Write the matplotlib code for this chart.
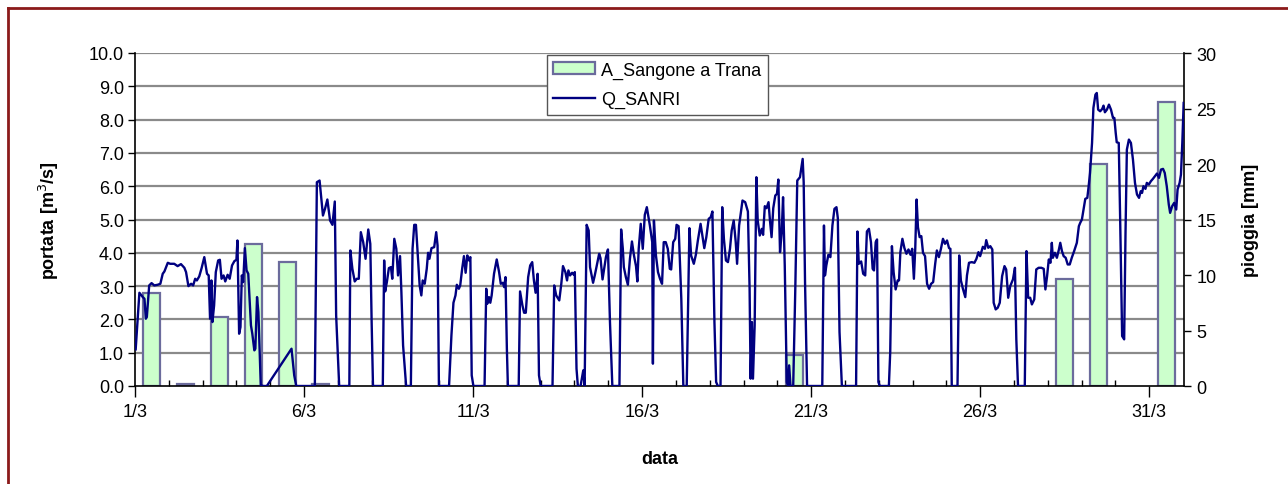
import numpy as np
import matplotlib.pyplot as plt
from matplotlib.patches import Patch
from matplotlib.lines import Line2D

plt.rcParams['font.family'] = ['Liberation Sans', 'DejaVu Sans']
plt.rcParams['font.size'] = 13

# pioggia giornaliera [mm] (giorno di marzo)
rain_day = [1, 2, 3, 4, 5, 6, 20, 28, 29, 31]
rain_mm = [8.4, 0.2, 6.2, 12.8, 11.2, 0.2, 2.8, 9.6, 20.0, 25.6]

# portata Q_SANRI: tempo in giorni dal 1/3 00:00, portata in m3/s
q_t = [0.02, 0.13, 0.23, 0.28, 0.32, 0.35, 0.42, 0.49, 0.57, 0.67, 0.75, 0.82, 0.87, 0.97,
       1.04, 1.16, 1.26, 1.36, 1.46, 1.51, 1.58, 1.66, 1.72, 1.78, 1.83, 1.90, 1.97,
       2.05, 2.13, 2.18, 2.22, 2.26, 2.29, 2.34, 2.39, 2.46, 2.51, 2.56, 2.62, 2.67, 2.74,
       2.80, 2.87, 2.94, 3.00, 3.03, 3.08, 3.12, 3.16, 3.20, 3.25, 3.30, 3.35, 3.43, 3.47,
       3.53, 3.56, 3.61, 3.65, 3.72, 3.80, 3.90, 4.63, 4.71, 4.77,
       5.32, 5.38, 5.46, 5.56, 5.62, 5.69, 5.77, 5.84, 5.91, 5.95, 6.04, 6.34, 6.37, 6.43,
       6.50, 6.56, 6.62, 6.68, 6.75, 6.82, 6.90, 6.96, 7.00, 7.04, 7.33, 7.37, 7.40, 7.45,
       7.51, 7.57, 7.61, 7.67, 7.73, 7.78, 7.84, 7.88, 7.93, 8.02, 8.16, 8.21, 8.26, 8.31,
       8.37, 8.42, 8.47, 8.51, 8.57, 8.63, 8.67, 8.71, 8.77, 8.85, 8.91, 8.95, 8.99, 9.29,
       9.36, 9.42, 9.48, 9.52, 9.58, 9.62, 9.68, 9.73, 9.78, 9.83, 9.88, 9.92, 9.96, 10.01,
       10.34, 10.39, 10.42, 10.47, 10.51, 10.55, 10.62, 10.70, 10.77, 10.82, 10.88, 10.92,
       10.96, 11.00, 11.03, 11.35, 11.39, 11.46, 11.51, 11.56, 11.63, 11.69, 11.75, 11.80,
       11.85, 11.91, 11.95, 12.00, 12.35, 12.40, 12.46, 12.51, 12.55, 12.61, 12.66, 12.73,
       12.78, 12.82, 12.87, 12.93, 12.98, 13.01, 13.06, 13.10, 13.18, 13.26, 13.30, 13.36,
       13.42, 13.46, 13.55, 13.60, 13.67, 13.73, 13.77, 13.83, 13.89, 13.93, 13.99, 14.05,
       14.12, 14.33, 14.38, 14.43, 14.46, 14.52, 14.58, 14.64, 14.70, 14.76, 14.82, 14.86,
       14.90, 14.96, 15.02, 15.08, 15.14,
       15.23, 15.30, 15.32, 15.35, 15.41, 15.47, 15.53, 15.59, 15.64, 15.70, 15.76, 15.82,
       15.86, 15.92, 15.98, 16.02, 16.08, 16.16, 16.22, 16.32, 16.40, 16.45, 16.53, 16.59,
       16.65, 16.73, 16.79, 16.84, 16.90, 16.97, 17.03, 17.08, 17.14, 17.19, 17.24, 17.32,
       17.37, 17.42, 17.48, 17.54, 17.60, 17.65, 17.71, 17.77, 17.81, 17.87, 17.97, 18.05,
       18.13, 18.18, 18.21, 18.25, 18.28, 18.33, 18.38, 18.42, 18.48, 18.54, 18.58, 18.63,
       18.68, 18.74, 18.78, 18.83, 18.88, 18.94, 18.99, 19.03, 19.08, 19.13, 19.17, 19.22,
       19.28, 19.32, 19.35, 19.39, 19.47, 19.53, 19.59, 19.67, 19.75, 19.78, 19.82, 19.88,
       20.33, 20.38, 20.41, 20.45, 20.51, 20.57, 20.63, 20.69, 20.75, 20.79, 20.84, 20.91,
       21.33, 21.37, 21.41, 21.48, 21.54, 21.60, 21.65, 21.71, 21.77, 21.82, 21.86, 21.91,
       21.95, 21.99, 22.03, 22.30, 22.34, 22.39, 22.44, 22.50, 22.56, 22.60, 22.64, 22.70,
       22.76, 22.82, 22.88, 22.94, 22.99, 23.04, 23.08, 23.12, 23.16, 23.21, 23.26, 23.31,
       23.37, 23.43, 23.49, 23.55, 23.61, 23.67, 23.72, 23.78, 23.84, 23.90, 23.96, 24.02,
       24.08, 24.12, 24.16, 24.33, 24.38, 24.43, 24.49, 24.56, 24.61, 24.67, 24.75, 24.83,
       24.89, 24.95,
       25.00, 25.08, 25.14, 25.18, 25.24, 25.30, 25.36, 25.40, 25.46, 25.52, 25.58, 25.65,
       25.72, 25.77, 25.83, 25.89, 25.97, 26.03, 26.07, 26.12, 26.32, 26.37, 26.42, 26.48,
       26.53, 26.60, 26.66, 26.73, 26.81, 26.88, 26.93, 26.98, 27.03, 27.08, 27.12, 27.15,
       27.21, 27.27, 27.33, 27.37, 27.42, 27.47, 27.53, 27.59, 27.65, 27.71, 27.78, 27.86,
       27.92, 27.96, 28.01, 28.06, 28.11, 28.17, 28.21, 28.25, 28.31, 28.35, 28.41, 28.45,
       28.49, 28.55, 28.61, 28.65, 28.69, 28.75, 28.81, 28.87, 28.93, 28.97, 29.01, 29.04,
       29.10, 29.14, 29.20, 29.26, 29.30, 29.34, 29.40, 29.46, 29.52, 29.58, 29.64, 29.70,
       29.75, 29.79, 29.83, 29.89, 29.93, 29.99, 30.05, 30.11, 30.17, 30.23, 30.29, 30.35,
       30.41, 30.46, 30.52, 30.58, 30.62, 30.68, 30.74, 30.80, 30.84, 30.90, 30.94, 30.98,
       31.02]
q_v = [1.10, 2.80, 2.67, 2.62, 2.02, 2.07, 3.02, 3.09, 3.02, 3.04, 3.07, 3.37, 3.44, 3.70,
       3.67, 3.67, 3.60, 3.66, 3.55, 3.42, 3.00, 3.07, 3.02, 3.22, 3.17, 3.29, 3.54,
       3.87, 3.37, 3.32, 2.02, 3.17, 1.92, 2.42, 3.42, 3.77, 3.79, 3.22, 3.32, 3.14, 3.34,
       3.22, 3.62, 3.75, 3.79, 4.37, 1.57, 1.77, 3.32, 3.12, 4.14, 3.47, 3.37, 1.82, 1.57,
       1.07, 1.12, 2.67, 2.22, 0.02, 0.0, 0.0, 1.12, 0.32, 0.0,
       0.0, 6.12, 6.17, 5.12, 5.32, 5.60, 4.97, 4.84, 5.54, 2.12, 0.0, 0.0, 4.07, 3.52,
       3.14, 3.22, 3.22, 4.62, 4.32, 3.82, 4.70, 4.27, 1.92, 0.0, 0.0, 3.77, 2.84, 3.12,
       3.54, 3.57, 3.22, 4.42, 4.12, 3.32, 3.90, 2.82, 1.22, 0.0, 0.0, 4.12, 4.84, 4.84,
       3.82, 3.02, 2.72, 3.17, 3.07, 3.52, 4.00, 3.82, 4.14, 4.17, 4.62, 4.22, 0.0, 0.0,
       1.52, 2.50, 2.72, 3.04, 2.92, 3.02, 3.54, 3.90, 3.40, 3.92, 3.77, 3.87, 0.32, 0.0,
       0.0, 2.92, 2.47, 2.67, 2.50, 2.72, 3.37, 3.80, 3.42, 3.07, 3.10, 2.97,
       3.27, 1.12, 0.0, 0.0, 2.84, 2.42, 2.20, 2.20, 3.27, 3.62, 3.72, 3.17,
       2.80, 3.37, 0.32, 0.0, 0.0, 3.02, 2.72, 2.64, 2.57, 3.07, 3.60, 3.42,
       3.17, 3.47, 3.32, 3.40, 3.34, 3.42, 0.52, 0.0, 0.0, 0.47, 0.0, 4.84,
       4.67, 3.57, 3.10, 3.32, 3.67, 3.97, 3.84, 3.20, 3.60, 3.87, 4.10, 1.92,
       0.0, 0.0, 4.70, 4.12, 3.57, 3.27, 3.04, 3.82, 4.34, 3.92, 3.60, 3.14,
       4.12, 4.87, 4.12, 5.14, 5.37,
       4.82, 4.32, 0.67, 4.97, 3.92, 3.42, 3.22, 3.07, 4.32, 4.32, 4.12, 3.52,
       3.50, 4.32, 4.42, 4.84, 4.80, 2.62, 0.0, 0.0, 4.74, 3.92, 3.67, 3.94,
       4.37, 4.87, 4.47, 4.14, 4.47, 5.02, 5.07, 5.24, 1.92, 0.12, 0.0, 0.0,
       5.37, 4.42, 3.77, 3.72, 4.12, 4.67, 4.97, 4.32, 3.67, 4.82, 5.57, 5.52,
       5.24, 2.92, 0.22, 1.92, 0.22, 1.82, 6.27, 4.97, 4.52, 4.72, 4.54, 5.40,
       5.34, 5.52, 5.00, 4.47, 5.34, 5.72, 5.77, 6.20, 4.02, 4.62, 5.67, 3.62,
       0.12, 0.0, 0.62, 0.0, 0.0, 2.82, 6.17, 6.27, 6.82, 6.12, 3.12, 0.0,
       0.0, 4.82, 3.32, 3.62, 3.94, 3.87, 4.82, 5.32, 5.37, 5.04, 1.62, 0.0,
       0.0, 4.64, 3.67, 3.74, 3.37, 3.32, 4.64, 4.72, 4.32, 3.52, 3.47, 4.32,
       4.40, 0.12, 0.0, 0.0, 1.02, 4.20, 3.42, 2.90, 3.17, 3.17, 4.02, 4.42,
       4.14, 3.97, 4.10, 3.94, 4.12, 3.22, 4.12, 5.60, 4.77, 4.47, 4.50, 4.00,
       3.90, 3.07, 2.92, 3.07, 3.12, 3.67, 4.07, 3.87, 4.12, 4.42, 4.27, 4.37,
       4.14, 4.12, 0.0, 0.0, 3.92, 3.17, 2.92, 2.67, 3.32, 3.70, 3.72, 3.70,
       3.82, 4.02,
       3.90, 4.18, 4.12, 4.38, 4.15, 4.20, 4.10, 2.50, 2.30, 2.35, 2.50, 3.30,
       3.60, 3.50, 2.65, 3.00, 3.20, 3.55, 1.40, 0.0, 0.0, 4.05, 2.65, 2.65,
       2.45, 2.60, 3.50, 3.55, 3.55, 3.52, 2.90, 3.30, 3.80, 3.70, 4.30, 3.85,
       4.00, 3.85, 4.10, 4.30, 4.05, 3.90, 3.85, 3.65, 3.65, 3.85, 4.05, 4.30,
       4.80, 4.90, 5.00, 5.30, 5.62, 5.65, 6.00, 6.40, 7.30, 8.35, 8.75, 8.80,
       8.30, 8.25, 8.32, 8.42, 8.22, 8.30, 8.45, 8.30, 8.05, 8.05, 7.60, 7.32,
       7.30, 5.10, 1.50, 1.40, 4.60, 7.10, 7.40, 7.30, 6.80, 6.10, 5.75, 5.65,
       5.85, 5.80, 6.00, 5.92, 6.10, 6.05, 6.15, 6.22, 6.30, 6.38, 6.25, 6.50,
       6.52, 6.40, 6.00, 5.45, 5.20, 5.40, 5.50, 5.30, 5.90, 6.10, 6.35, 7.30,
       8.50]

date_labels = ['1/3', '6/3', '11/3', '16/3', '21/3', '26/3', '31/3']
q_ticks = np.arange(0, 10.5, 1.0)
rain_ticks = np.arange(0, 31, 5)
n_days = 31.03

fig = plt.figure(figsize=(12.88, 4.85), dpi=100)
ax = fig.add_axes([135 / 1288, 98 / 485, 1049 / 1288, 333 / 485])
ax2 = ax.twinx()
ax.set_zorder(ax2.get_zorder() + 1)
ax.patch.set_visible(False)

# gridlines behind the bars (same levels as left axis)
for t in q_ticks[1:]:
    ax2.axhline(t * 3.0, color='#8a8a8a', lw=1.6, zorder=0)

ax2.bar(np.array(rain_day) - 0.5, rain_mm, width=0.5, color='#ccffcc',
        edgecolor='#6b6b9c', linewidth=1.6, zorder=2)
ax.plot(q_t, q_v, color='#000080', lw=1.7, zorder=3)

ax.set_xlim(0, n_days)
ax.set_ylim(0, 10)
ax2.set_ylim(0, 30)

ax.set_yticks(q_ticks)
ax.set_yticklabels([f'{v:.1f}' for v in q_ticks])
ax2.set_yticks(rain_ticks)
ax2.set_yticklabels([str(v) for v in rain_ticks])
ax.set_xticks(np.arange(len(date_labels)) * 5)
ax.set_xticklabels(date_labels)
ax.set_xticks(np.arange(0, 31), minor=True)

ax.tick_params(axis='x', which='major', direction='out', length=8, width=1, pad=4)
ax.tick_params(axis='x', which='minor', direction='in', length=4, width=1)
ax.tick_params(axis='y', direction='out', length=5, width=1, pad=3)
ax2.tick_params(axis='y', direction='out', length=5, width=1, pad=4)

for s in ['top', 'right']:
    ax.spines[s].set_visible(False)
for s in ['top', 'left', 'bottom']:
    ax2.spines[s].set_visible(False)
ax.spines['left'].set_linewidth(1.2)
ax.spines['bottom'].set_linewidth(1.2)
ax2.spines['right'].set_linewidth(1.2)

ax.set_ylabel('portata [m$^3$/s]', fontweight='bold', labelpad=20)
ax2.set_ylabel('pioggia [mm]', fontweight='bold', labelpad=18)
ax.set_xlabel('data', fontweight='bold', labelpad=22)

handles = [Patch(facecolor='#ccffcc', edgecolor='#6b6b9c', linewidth=1.6),
           Line2D([0], [0], color='#000080', lw=1.7)]
leg = ax.legend(handles, ['A_Sangone a Trana', 'Q_SANRI'],
                loc='upper left', bbox_to_anchor=(547 / 1288, 1 - 56 / 485),
                bbox_transform=fig.transFigure, frameon=True, fancybox=False,
                framealpha=1, edgecolor='#555555', borderpad=0.35,
                handlelength=2.3, handletextpad=0.35, labelspacing=0.7,
                borderaxespad=0)
leg.get_frame().set_linewidth(1.0)

# cornice esterna del grafico
fig.add_artist(Line2D([8 / 1288, 8 / 1288], [0, 1 - 9 / 485], transform=fig.transFigure,
                      color='#8b1a1a', lw=2))
fig.add_artist(Line2D([8 / 1288, 1], [1 - 9 / 485, 1 - 9 / 485], transform=fig.transFigure,
                      color='#8b1a1a', lw=2))

fig.savefig('out.png', dpi=100)
